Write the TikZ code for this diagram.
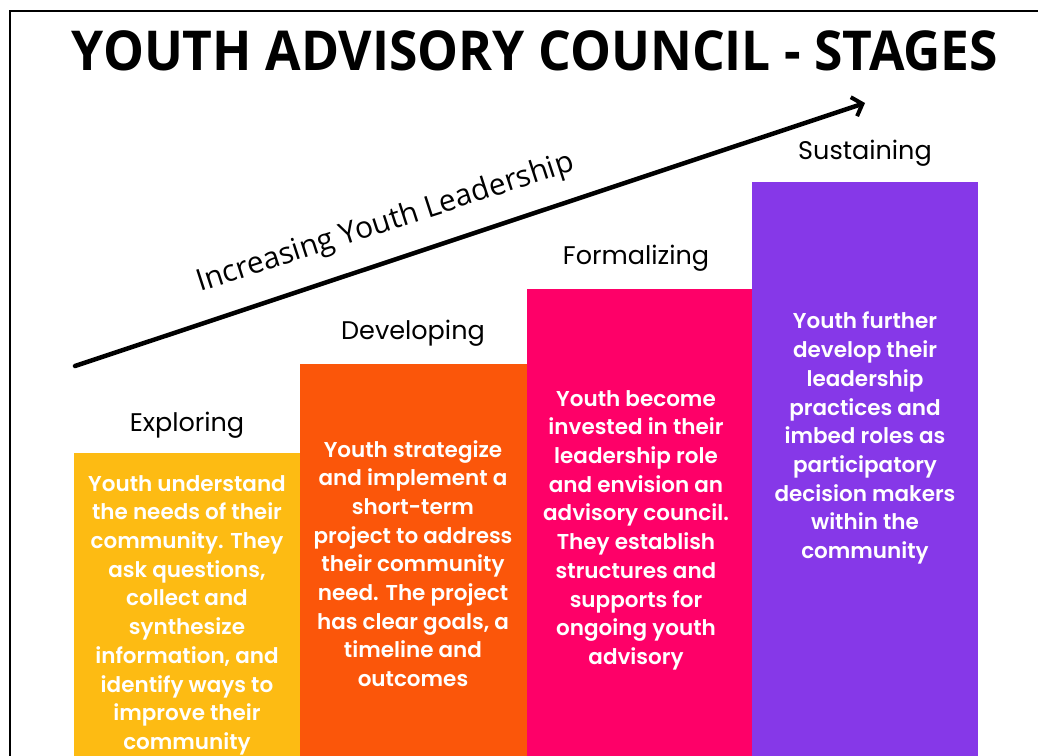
\documentclass[tikz,border=0pt]{standalone}
\usepackage{fontspec}
\usetikzlibrary{arrows.meta}
\newfontfamily\titlefont{Open Sans}
\newfontfamily\labfont{Poppins}
\newfontfamily\bodyfont{Poppins SemiBold}
\newfontfamily\arrfont{Open Sans}
\definecolor{cyellow}{HTML}{FDBB13}
\definecolor{corange}{HTML}{FB560A}
\definecolor{cpink}{HTML}{FE0068}
\definecolor{cpurple}{HTML}{8638E8}
\tikzset{
  stagelabel/.style={font=\labfont\fontsize{25.5}{28}\selectfont, text=black, inner sep=0pt, anchor=base},
  bodytext/.style={font=\bodyfont\fontsize{21.5}{28.7}\selectfont, text=white, align=center, inner sep=0pt, anchor=north},
  bar/.style={draw=none, inner sep=0pt, anchor=north west}
}
\begin{document}
\begin{tikzpicture}[x=1pt,y=-1pt]
\useasboundingbox (0,0) rectangle (1038,755);
\fill[white] (0,0) rectangle (1038,755);
% frame
\draw[line width=2pt] (10,770) -- (10,11) -- (1045,11);
% title
\node[font=\titlefont\bfseries\fontsize{55}{60}\selectfont, anchor=base, inner sep=0pt] (title) at (535,70) {\scalebox{0.937}[1]{YOUTH ADVISORY COUNCIL - STAGES}};
% bars
\node[bar, fill=cyellow, minimum width=226pt, minimum height=310pt] (b1) at (74,453) {};
\node[bar, fill=corange, minimum width=227pt, minimum height=400pt] (b2) at (300,364) {};
\node[bar, fill=cpink, minimum width=225pt, minimum height=470pt] (b3) at (527,289) {};
\node[bar, fill=cpurple, minimum width=226pt, minimum height=580pt] (b4) at (752,182) {};
% labels
\node[stagelabel] (l1) at (187,431) {Exploring};
\node[stagelabel] (l2) at (413,339) {Developing};
\node[stagelabel] (l3) at (636,264) {Formalizing};
\node[stagelabel] (l4) at (865,159) {Sustaining};
% body texts
\node[bodytext] (t1) at (187,475) {Youth understand\\the needs of their\\community. They\\ask questions,\\collect and\\synthesize\\information, and\\identify ways to\\improve their\\community};
\node[bodytext] (t2) at (413,440) {Youth strategize\\and implement a\\short-term\\project to address\\their community\\need. The project\\has clear goals, a\\timeline and\\outcomes};
\node[bodytext] (t3) at (636,390) {Youth become\\invested in their\\leadership role\\and envision an\\advisory council.\\They establish\\structures and\\supports for\\ongoing youth\\advisory};
\node[bodytext] (t4) at (865,312) {Youth further\\develop their\\leadership\\practices and\\imbed roles as\\participatory\\decision makers\\within the\\community};
% arrow
\coordinate (as) at (75,366);
\coordinate (ae) at (865,103);
\draw[line width=4.5pt, line cap=round, -{Straight Barb[length=9pt,width=20pt,line width=4pt]}] (as) -- (ae);
\node[font=\arrfont\fontsize{30}{34}\selectfont, rotate=18, inner sep=0pt, anchor=base] (inc) at (388,231) {Increasing Youth Leadership};
\end{tikzpicture}
\end{document}
